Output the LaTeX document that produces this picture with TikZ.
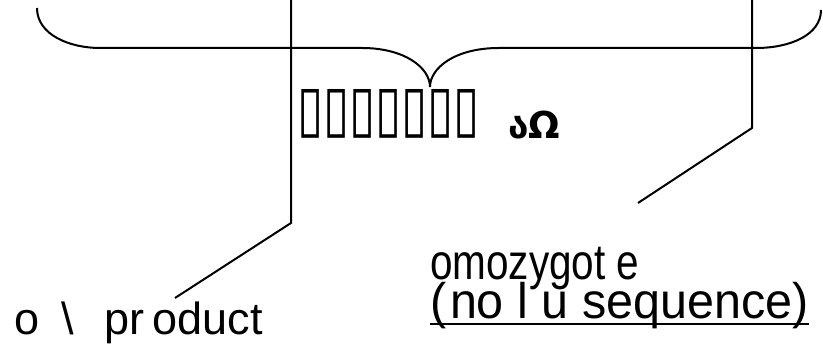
\documentclass[tikz,border=0pt]{standalone}
\usepackage{fontspec}
\setmainfont{Liberation Sans}
\newfontfamily\djv{DejaVu Sans}
\begin{document}
\begin{tikzpicture}[x=1pt,y=-1pt,
  ln/.style={line width=2pt,black},
  lbl/.style={inner sep=0pt,outer sep=0pt}]
\useasboundingbox (0,0) rectangle (823,352);
% brace
\draw[ln] (37,8) .. controls (37,35) and (70,48) .. (100,48) -- (362,48)
  .. controls (405,48) and (430,68) .. (430,87)
  .. controls (430,68) and (455,48) .. (499,48) -- (756,48)
  .. controls (790,48) and (821,35) .. (821,10);
% connectors
\coordinate (l0) at (291,0);
\coordinate (l1) at (291,223);
\coordinate (l2) at (175,298);
\coordinate (r0) at (752,0);
\coordinate (r1) at (752,128);
\coordinate (r2) at (638,203);
\draw[ln] (l0) -- (l1) -- (l2);
\draw[ln] (r0) -- (r1) -- (r2);
% labels
\node[lbl,anchor=south west] (tofu) at (297,138)
  {\resizebox{183pt}{41pt}{\djv ▯▯▯▯▯▯▯}};
\node[lbl,anchor=base west] (gl) at (508,139)
  {\resizebox{52pt}{!}{\fontsize{38}{44}\selectfont\djv\bfseries აΩ}};
\node[lbl,anchor=base west] (t1) at (430,280)
  {\scalebox{0.81}[1]{\fontsize{50}{60}\selectfont omozygot e}};
\node[lbl,anchor=base west] (t2) at (430,319)
  {\scalebox{0.97}[1]{\fontsize{50}{60}\selectfont (\hspace{4pt}no l u sequence)}};
\draw[ln] ([yshift=-5pt]t2.base west) -- ([yshift=-5pt]t2.base east);
\node[lbl,anchor=base west] (t3) at (15,335)
  {\fontsize{45}{54}\selectfont o\hspace{22pt}\textbackslash\hspace{30pt}pr\hspace{8pt}oduct};
\end{tikzpicture}
\end{document}
